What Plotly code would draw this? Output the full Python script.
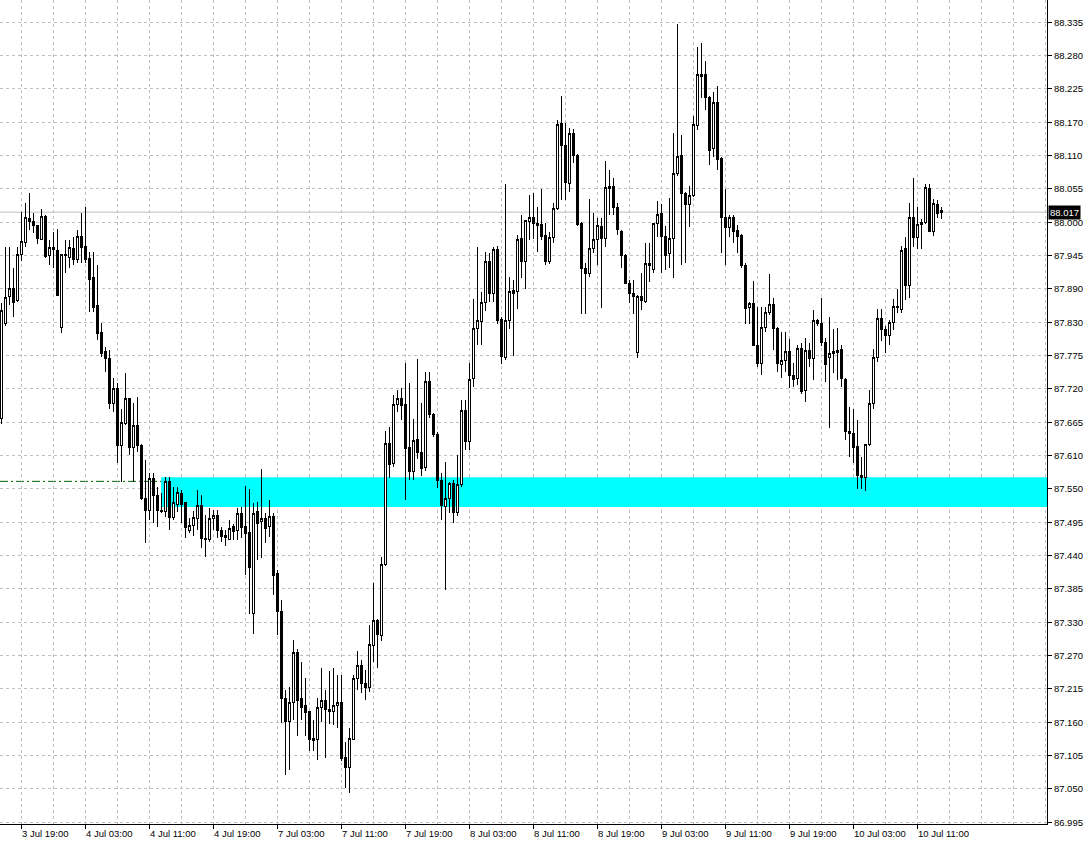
import plotly.graph_objects as go

# ---- OHLC data (30-minute bars) ----
opens = [87.672,87.831,87.876,87.889,87.869,87.946,87.966,88.006,88.002,87.994,
         87.972,88.010,87.945,87.958,87.953,87.824,87.946,87.941,87.956,87.938,
         87.977,87.960,87.940,87.908,87.861,87.816,87.784,87.771,87.697,87.722,
         87.626,87.663,87.705,87.623,87.660,87.626,87.538,87.518,87.570,87.543,
         87.518,87.515,87.566,87.506,87.528,87.546,87.530,87.484,87.492,87.504,
         87.526,87.471,87.468,87.503,87.509,87.483,87.476,87.469,87.491,87.483,
         87.513,87.490,87.481,87.345,87.516,87.498,87.504,87.490,87.507,87.412,
         87.348,87.203,87.163,87.196,87.280,87.203,87.190,87.180,87.132,87.134,
         87.188,87.199,87.183,87.180,87.190,87.196,87.104,87.087,87.134,87.236,
         87.258,87.228,87.221,87.291,87.333,87.308,87.426,87.630,87.596,87.695,
         87.705,87.695,87.623,87.583,87.636,87.615,87.590,87.734,87.678,87.645,
         87.568,87.524,87.538,87.562,87.514,87.560,87.685,87.633,87.739,87.822,
         87.834,87.866,87.935,87.881,87.955,87.838,87.774,87.836,87.886,87.884,
         87.973,87.935,88.001,88.008,87.998,87.996,87.978,87.935,87.975,88.023,
         88.166,88.128,88.065,88.149,88.112,87.998,87.923,87.915,87.956,87.971,
         87.993,87.973,88.057,88.060,88.025,87.985,87.945,87.898,87.881,87.782,
         87.876,87.868,87.931,87.921,87.998,88.015,87.977,87.948,87.973,88.082,
         88.112,88.049,88.030,88.045,88.162,88.245,88.248,88.209,88.124,88.200,
         88.107,88.008,87.992,88.008,87.987,87.978,87.928,87.857,87.864,87.794,
         87.764,87.824,87.849,87.863,87.822,87.762,87.768,87.784,87.744,87.739,
         87.789,87.719,87.786,87.771,87.836,87.830,87.798,87.774,87.781,87.782,
         87.787,87.737,87.650,87.647,87.625,87.573,87.573,87.627,87.697,87.774,
         87.839,87.821,87.811,87.832,87.857,87.854,87.956,87.894,88.008,87.975,
         87.997,88.000,88.057,87.985,88.030,88.019]
highs = [87.864,87.958,87.958,87.923,87.958,88.018,88.033,88.049,88.015,87.996,
         88.023,88.012,87.970,87.983,87.988,87.946,87.970,87.970,87.975,87.987,
         88.015,88.025,87.950,87.950,87.928,87.831,87.791,87.786,87.740,87.730,
         87.688,87.747,87.705,87.697,87.707,87.628,87.601,87.580,87.580,87.556,
         87.546,87.573,87.573,87.556,87.556,87.551,87.532,87.505,87.516,87.551,
         87.543,87.510,87.521,87.518,87.518,87.489,87.484,87.501,87.494,87.521,
         87.523,87.559,87.553,87.529,87.531,87.586,87.513,87.534,87.513,87.417,
         87.367,87.216,87.221,87.300,87.286,87.263,87.236,87.182,87.166,87.203,
         87.253,87.216,87.248,87.253,87.241,87.241,87.130,87.153,87.241,87.281,
         87.266,87.250,87.325,87.395,87.335,87.439,87.650,87.657,87.710,87.719,
         87.722,87.765,87.730,87.670,87.771,87.697,87.750,87.750,87.680,87.648,
         87.580,87.598,87.565,87.568,87.610,87.702,87.702,87.765,87.872,87.958,
         87.884,87.950,87.948,87.958,87.960,87.841,88.064,87.908,87.903,87.978,
         88.013,88.003,88.045,88.049,88.025,88.055,87.998,87.983,88.032,88.172,
         88.212,88.166,88.158,88.156,88.115,88.000,87.931,88.039,88.015,88.008,
         88.008,88.102,88.087,88.075,88.032,87.987,87.947,87.903,87.903,87.878,
         87.915,87.965,87.965,87.998,88.035,88.030,87.993,88.040,88.149,88.333,
         88.146,88.050,88.060,88.178,88.293,88.300,88.271,88.212,88.218,88.229,
         88.109,88.055,88.013,88.013,87.995,87.980,87.931,87.866,87.901,87.858,
         87.858,87.858,87.913,87.874,87.824,87.816,87.816,87.804,87.764,87.794,
         87.797,87.807,87.797,87.853,87.838,87.874,87.807,87.841,87.821,87.823,
         87.794,87.739,87.690,87.688,87.668,87.606,87.627,87.719,87.787,87.854,
         87.854,87.826,87.836,87.871,87.888,87.960,87.975,88.032,88.074,88.025,
         88.005,88.064,88.064,88.039,88.037,88.025]
lows = [87.662,87.826,87.861,87.841,87.866,87.936,87.958,87.987,87.982,87.964,
        87.970,87.940,87.928,87.923,87.878,87.814,87.915,87.923,87.928,87.932,
        87.932,87.932,87.849,87.849,87.802,87.774,87.749,87.688,87.682,87.596,
        87.565,87.660,87.610,87.565,87.615,87.535,87.462,87.501,87.496,87.489,
        87.513,87.506,87.484,87.501,87.514,87.496,87.471,87.479,87.474,87.484,
        87.454,87.439,87.465,87.484,87.471,87.464,87.457,87.467,87.467,87.467,
        87.471,87.409,87.343,87.310,87.434,87.437,87.462,87.472,87.376,87.308,
        87.161,87.074,87.082,87.166,87.140,87.166,87.140,87.114,87.114,87.099,
        87.163,87.102,87.160,87.158,87.153,87.097,87.052,87.044,87.134,87.216,
        87.211,87.199,87.213,87.263,87.253,87.298,87.424,87.572,87.590,87.683,
        87.668,87.534,87.568,87.568,87.603,87.575,87.583,87.672,87.640,87.555,
        87.501,87.384,87.513,87.497,87.508,87.556,87.618,87.618,87.724,87.794,
        87.794,87.851,87.866,87.866,87.830,87.762,87.769,87.821,87.776,87.854,
        87.906,87.889,87.970,87.972,87.950,87.970,87.928,87.930,87.965,88.020,
        88.037,88.037,88.050,88.100,87.994,87.846,87.846,87.908,87.948,87.928,
        87.856,87.958,88.012,88.012,87.978,87.923,87.896,87.864,87.846,87.772,
        87.853,87.864,87.900,87.915,87.975,87.915,87.920,87.923,87.906,88.077,
        87.928,87.931,87.992,88.043,88.155,88.209,88.188,88.096,88.109,88.087,
        87.948,87.928,87.975,87.965,87.948,87.923,87.829,87.829,87.794,87.758,
        87.744,87.816,87.845,87.786,87.749,87.740,87.749,87.722,87.724,87.727,
        87.712,87.699,87.757,87.735,87.826,87.792,87.732,87.655,87.747,87.735,
        87.724,87.635,87.607,87.596,87.554,87.553,87.550,87.625,87.687,87.766,
        87.801,87.781,87.794,87.819,87.848,87.848,87.869,87.874,87.958,87.956,
        87.956,87.997,87.983,87.977,88.007,88.005]
closes = [87.853,87.874,87.889,87.866,87.946,87.968,88.008,88.002,87.994,87.973,
          88.010,87.943,87.958,87.955,87.878,87.946,87.945,87.958,87.938,87.977,
          87.958,87.938,87.905,87.858,87.814,87.781,87.771,87.697,87.722,87.626,
          87.665,87.705,87.623,87.660,87.626,87.538,87.518,87.570,87.543,87.518,
          87.515,87.566,87.506,87.530,87.548,87.528,87.488,87.492,87.506,87.526,
          87.471,87.468,87.504,87.509,87.483,87.473,87.472,87.487,87.482,87.513,
          87.488,87.479,87.422,87.513,87.496,87.503,87.487,87.507,87.409,87.348,
          87.203,87.163,87.196,87.280,87.199,87.188,87.179,87.134,87.136,87.188,
          87.199,87.183,87.180,87.190,87.196,87.102,87.087,87.136,87.236,87.258,
          87.228,87.221,87.293,87.333,87.310,87.426,87.630,87.594,87.695,87.705,
          87.693,87.621,87.583,87.635,87.615,87.588,87.734,87.678,87.645,87.568,
          87.526,87.538,87.563,87.514,87.560,87.685,87.633,87.737,87.822,87.836,
          87.866,87.935,87.881,87.955,87.836,87.776,87.836,87.884,87.881,87.971,
          87.935,88.003,88.008,87.998,87.995,87.977,87.935,87.975,88.023,88.164,
          88.128,88.067,88.149,88.112,87.997,87.923,87.915,87.956,87.971,87.994,
          87.973,88.058,88.060,88.025,87.988,87.945,87.898,87.881,87.876,87.876,
          87.869,87.931,87.928,87.998,88.013,87.977,87.945,87.973,88.082,88.110,
          88.049,88.030,88.045,88.164,88.248,88.248,88.209,88.121,88.200,88.106,
          88.008,87.992,88.008,87.985,87.976,87.928,87.856,87.864,87.794,87.764,
          87.824,87.849,87.863,87.822,87.764,87.768,87.784,87.744,87.737,87.789,
          87.717,87.786,87.771,87.836,87.830,87.798,87.761,87.781,87.784,87.786,
          87.739,87.650,87.647,87.623,87.576,87.576,87.627,87.697,87.774,87.839,
          87.821,87.811,87.832,87.859,87.859,87.953,87.894,88.008,87.975,87.997,
          88.000,88.059,87.985,88.032,88.015,88.017]

time_labels = ["3 Jul 19:00", "4 Jul 03:00", "4 Jul 11:00", "4 Jul 19:00",
               "7 Jul 03:00", "7 Jul 11:00", "7 Jul 19:00", "8 Jul 03:00",
               "8 Jul 11:00", "8 Jul 19:00", "9 Jul 03:00", "9 Jul 11:00",
               "9 Jul 19:00", "10 Jul 03:00", "10 Jul 11:00"]
time_label_bars = [5 + 16 * k for k in range(len(time_labels))]

price_labels = ["86.995", "87.050", "87.105", "87.160", "87.215", "87.270",
                "87.330", "87.385", "87.440", "87.495", "87.550", "87.610",
                "87.665", "87.720", "87.775", "87.830", "87.890", "87.945",
                "88.000", "88.055", "88.110", "88.170", "88.225", "88.280",
                "88.335"]
price_low, price_high = 86.995, 88.335
price_step = (price_high - price_low) / (len(price_labels) - 1)
price_vals = [price_low + j * price_step for j in range(len(price_labels))]

current_price = 88.017
zone_low, zone_high = 87.523, 87.573
zone_start_bar = 39.9
level_line = 87.566

bars = list(range(len(opens)))

GRID = "#c0c0c0"
FONT = "Liberation Sans, Arial, sans-serif"
FSIZE = 9.5

fig = go.Figure()
fig.add_trace(go.Candlestick(
    x=bars, open=opens, high=highs, low=lows, close=closes,
    increasing=dict(line=dict(color="black", width=1), fillcolor="white"),
    decreasing=dict(line=dict(color="black", width=1), fillcolor="black"),
    whiskerwidth=0, hoverinfo="skip", showlegend=False,
))

shapes = [
    dict(type="rect", xref="x", yref="y", x0=zone_start_bar, x1=400,
         y0=zone_low, y1=zone_high, fillcolor="#00ffff",
         line=dict(width=0), layer="between"),
    dict(type="line", xref="paper", yref="y", x0=0, x1=1,
         y0=level_line, y1=level_line,
         line=dict(color="#006400", width=1, dash="8px,3px,2px,3px"),
         layer="between"),
    dict(type="line", xref="paper", yref="y", x0=0, x1=1,
         y0=current_price, y1=current_price,
         line=dict(color="#c0c0c0", width=1), layer="between"),
]

annotations = []
for xb, txt in zip(time_label_bars, time_labels):
    annotations.append(dict(x=xb, xref="x", y=0, yref="paper", text=txt,
                            showarrow=False, xanchor="left", yanchor="top",
                            xshift=-2, yshift=-2,
                            font=dict(family=FONT, size=FSIZE, color="black")))
annotations.append(dict(x=1, xref="paper", y=current_price, yref="y",
                        text=f"{current_price:.3f}", showarrow=False,
                        xanchor="left", yanchor="middle", xshift=1,
                        bgcolor="black", borderpad=1,
                        font=dict(family=FONT, size=FSIZE, color="white")))

fig.update_layout(
    width=1088, height=845,
    margin=dict(l=0, r=41, t=0, b=21, autoexpand=False),
    paper_bgcolor="white", plot_bgcolor="white",
    shapes=shapes, annotations=annotations,
    boxgap=0.5,
    font=dict(family=FONT, size=FSIZE, color="black"),
    hovermode=False,
)
fig.update_xaxes(
    range=[-0.375, 261.375],
    rangeslider=dict(visible=False),
    tickmode="array", tickvals=time_label_bars, showticklabels=False,
    ticks="outside", ticklen=4, tickcolor="black",
    showgrid=True, gridcolor=GRID, griddash="3px,3px", gridwidth=1,
    minor=dict(tick0=5, dtick=8, showgrid=True, gridcolor=GRID,
               griddash="3px,3px", ticks=""),
    showline=True, linecolor="black", linewidth=1,
    zeroline=False, automargin=False,
)
fig.update_yaxes(
    side="right",
    range=[86.992, 88.3724],
    tickmode="array", tickvals=price_vals, ticktext=price_labels,
    ticks="outside", ticklen=4, tickcolor="black",
    showgrid=True, gridcolor=GRID, griddash="3px,3px", gridwidth=1,
    showline=True, linecolor="black", linewidth=1,
    zeroline=False, automargin=False,
    tickfont=dict(family=FONT, size=FSIZE, color="black"),
)

post_js = (
    "document.body.style.margin='0';"
    "document.querySelectorAll('.boxlayer path').forEach(function(p){"
    "p.style.shapeRendering='crispEdges';});"
)
fig.write_html("out.html", config={"displayModeBar": False},
               post_script=post_js)
